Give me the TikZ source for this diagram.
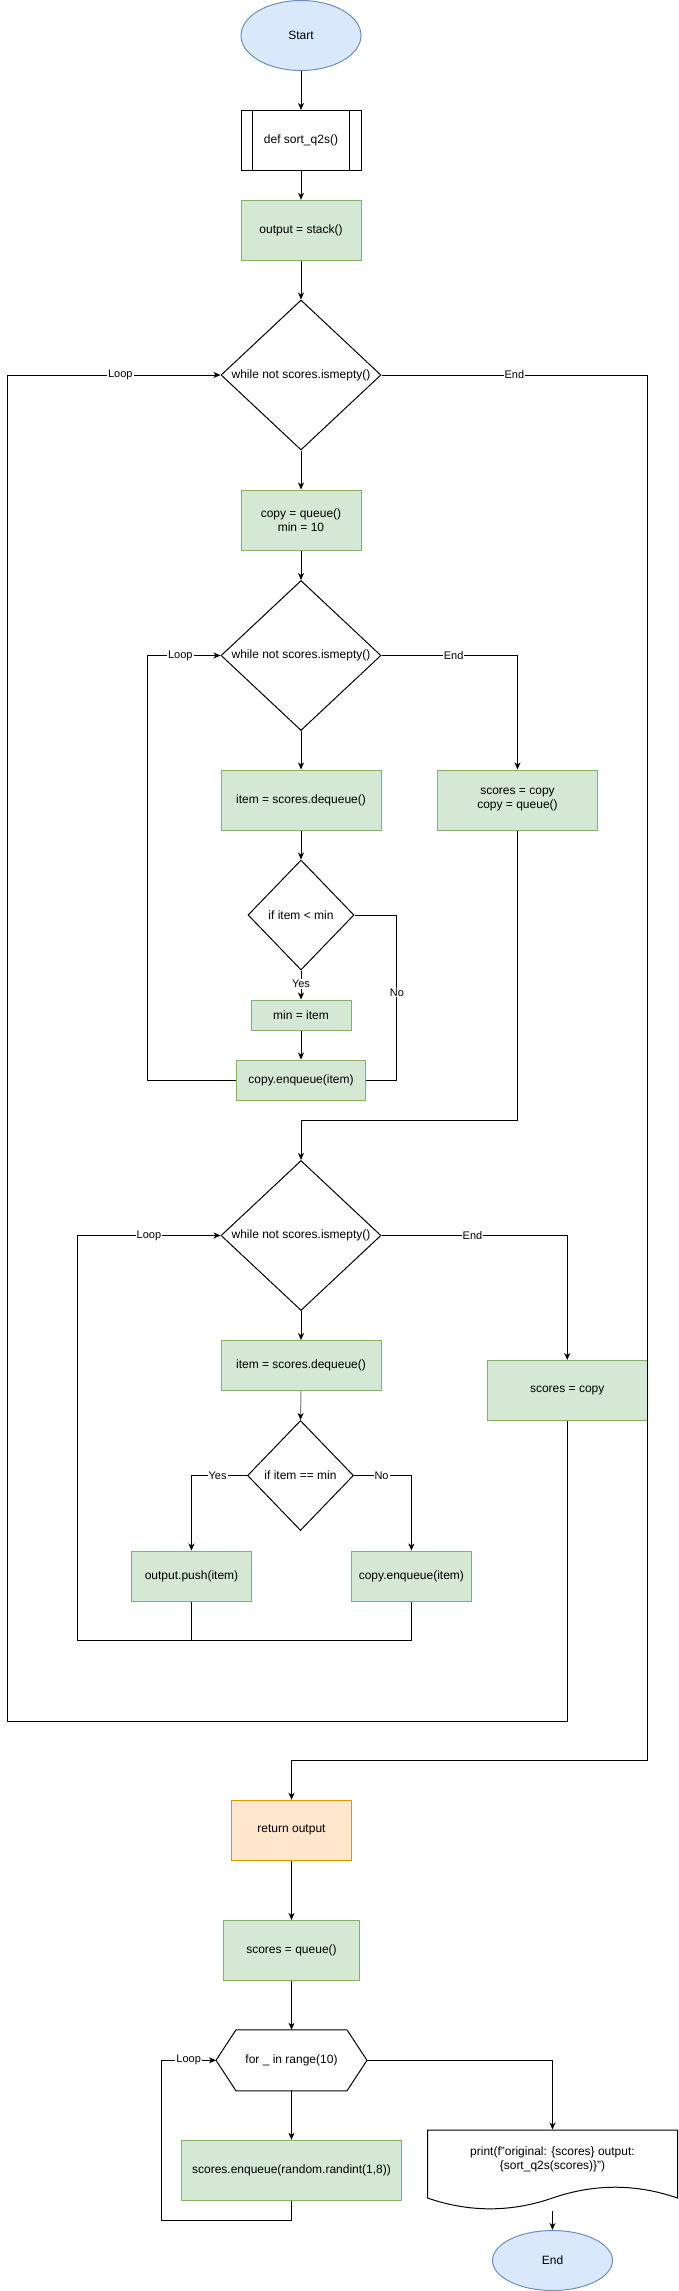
\documentclass[tikz,border=0pt]{standalone}
\usepackage{fontspec}
\setmainfont{Liberation Sans}
\usetikzlibrary{arrows.meta,shapes.geometric}
\definecolor{gfill}{HTML}{D5E8D4}
\definecolor{gline}{HTML}{82B366}
\definecolor{bfill}{HTML}{DAE8FC}
\definecolor{bline}{HTML}{6C8EBF}
\definecolor{ofill}{HTML}{FFE6CC}
\definecolor{oline}{HTML}{D79B00}
\definecolor{edgegray}{HTML}{808080}
\begin{document}
\begin{tikzpicture}[x=1pt,y=-1pt,line width=1pt,
  txt/.style={font=\fontsize{12}{14}\selectfont,align=center,text=black},
  gbox/.style={txt,rectangle,draw=gline,fill=gfill,inner sep=0pt},
  obox/.style={txt,rectangle,draw=oline,fill=ofill,inner sep=0pt},
  wbox/.style={txt,rectangle,draw=black,fill=white,inner sep=0pt},
  term/.style={txt,ellipse,draw=bline,fill=bfill,inner sep=0pt,minimum width=120pt,minimum height=70pt},
  dia/.style={txt,diamond,draw=black,fill=white,inner sep=0pt,aspect=1.07},
  helper/.style={rectangle,inner sep=0pt},
  arr/.style={-{Stealth[length=7pt,width=6pt,inset=2pt]}},
  grayarr/.style={-{Stealth[length=7pt,width=6pt,inset=2pt,black]},draw=edgegray},
  lab/.style={font=\fontsize{11}{13}\selectfont,fill=white,inner sep=1pt,text=black}]
\useasboundingbox (0,0) rectangle (678,2291);

% ---------- nodes ----------
\node[term] (start) at (301,35.5) {Start};
\node[wbox,minimum width=120pt,minimum height=60pt] (def) at (301,140.5) {def sort\_q2s()};
\draw ([xshift=12pt]def.north west) -- ([xshift=12pt]def.south west);
\draw ([xshift=-12pt]def.north east) -- ([xshift=-12pt]def.south east);
\node[gbox,minimum width=120pt,minimum height=60pt] (out) at (301,230.3) {output = stack()};
\node[dia,minimum width=160pt,minimum height=150pt] (d1) at (301,375) {while not scores.ismepty()};
\node[gbox,minimum width=120pt,minimum height=60pt] (copy) at (301,520) {copy = queue()\\min = 10};
\node[dia,minimum width=160pt,minimum height=150pt] (d2) at (301,655.5) {while not scores.ismepty()};
\node[gbox,minimum width=160pt,minimum height=60pt] (item1) at (301,800) {item = scores.dequeue()};
\node[gbox,minimum width=160pt,minimum height=60pt] (sc1) at (517.5,800) {scores = copy\\copy = queue()};
\node[dia,minimum width=106pt,minimum height=110pt] (d3) at (301,915) {if item < min};
\node[gbox,minimum width=100pt,minimum height=30pt] (mini) at (301,1015) {min = item};
\node[gbox,minimum width=129pt,minimum height=40pt] (enq1) at (301,1080) {copy.enqueue(item)};
\node[dia,minimum width=160pt,minimum height=150pt] (d4) at (301,1235.5) {while not scores.ismepty()};
\node[gbox,minimum width=160pt,minimum height=50pt] (item2) at (301,1365.6) {item = scores.dequeue()};
\node[gbox,minimum width=160pt,minimum height=60pt] (sc2) at (567.2,1390.5) {scores = copy};
\node[dia,minimum width=106pt,minimum height=110pt] (d5) at (300.5,1475.5) {if item == min};
\node[gbox,minimum width=120pt,minimum height=50pt] (push) at (191.5,1576) {output.push(item)};
\node[gbox,minimum width=120pt,minimum height=50pt] (enq2) at (411.4,1576) {copy.enqueue(item)};
\node[obox,minimum width=120pt,minimum height=60pt] (ret) at (291.5,1830.3) {return output};
\node[gbox,minimum width=136pt,minimum height=60pt] (sq) at (291.5,1950.5) {scores = queue()};
\node[helper,minimum width=150pt,minimum height=60pt] (hex) at (291.5,2060.3) {};
\draw[fill=white] (hex.west) -- ([xshift=20pt]hex.north west) -- ([xshift=-20pt]hex.north east)
  -- (hex.east) -- ([xshift=-20pt]hex.south east) -- ([xshift=20pt]hex.south west) -- cycle;
\node[txt] (hext) at (hex) {for \_ in range(10)};
\node[gbox,minimum width=220pt,minimum height=60pt] (enq3) at (291.5,2170.3) {scores.enqueue(random.randint(1,8))};
\node[helper,minimum width=250pt,minimum height=80pt] (doc) at (552.5,2170) {};
\draw[fill=white] (427.5,2130) -- (677.5,2130) -- (677.5,2198)
  .. controls (635.83,2183.6) and (594.17,2183.6) .. (552.5,2198)
  .. controls (510.83,2212.4) and (469.17,2212.4) .. (427.5,2198) -- cycle;
\node[txt] (doct) at (552.5,2159) {print(f"original: \{scores\} output:\\\{sort\_q2s(scores)\}")};
\node[term,minimum height=60pt] (end) at (552.5,2260.5) {End};

% ---------- bend points ----------
\coordinate (e2a) at (517.5,655.5);
\coordinate (n3a) at (396.9,915);
\coordinate (n3b) at (396.9,1080);
\coordinate (l2a) at (147.4,1080);
\coordinate (l2b) at (147.4,655.5);
\coordinate (s1a) at (517.5,1120);
\coordinate (s1b) at (301,1120);
\coordinate (e4a) at (567.2,1235.5);
\coordinate (y5a) at (191.5,1475.5);
\coordinate (n5a) at (411.4,1475.5);
\coordinate (m4a) at (191.5,1640.7);
\coordinate (m4b) at (411.4,1640.7);
\coordinate (l4a) at (77.4,1640.7);
\coordinate (l4b) at (77.4,1235.5);
\coordinate (l1a) at (567.2,1721.2);
\coordinate (l1b) at (7.4,1721.2);
\coordinate (l1c) at (7.4,375);
\coordinate (e1a) at (647.2,375);
\coordinate (e1b) at (647.2,1760);
\coordinate (e1c) at (291.5,1760);
\coordinate (lfa) at (291.5,2220.3);
\coordinate (lfb) at (161.3,2220.3);
\coordinate (lfc) at (161.3,2060.3);
\coordinate (pra) at (552.5,2060.3);

% ---------- connectors ----------
\draw[arr] (start.south) -- (def.north);
\draw[arr] (def.south) -- (out.north);
\draw[arr] (out.south) -- (d1.north);
\draw[arr] (d1.south) -- (copy.north);
\draw[arr] (copy.south) -- (d2.north);
\draw[arr] (d2.south) -- (item1.north);
\draw[arr] (d2.east) -- node[lab,pos=0.53] {End} (e2a) -- (sc1.north);
\draw[arr] (item1.south) -- (d3.north);
\draw[arr] (d3.south) -- node[lab,pos=0.47] {Yes} (mini.north);
\draw[arr] (mini.south) -- (enq1.north);
\draw (d3.east) -- (n3a) -- node[lab,pos=0.47] {No} (n3b) -- (enq1.east);
\draw[arr] (enq1.west) -- (l2a) -- (l2b) -- node[lab,pos=0.45] {Loop} (d2.west);
\draw[arr] (sc1.south) -- (s1a) -- (s1b) -- (d4.north);
\draw[arr] (d4.south) -- (item2.north);
\draw[arr] (d4.east) -- node[lab,pos=0.49] {End} (e4a) -- (sc2.north);
\draw[grayarr] (item2.south) -- (d5.north);
\draw[arr] (d5.west) -- node[lab,pos=0.53] {Yes} (y5a) -- (push.north);
\draw[arr] (d5.east) -- node[lab,pos=0.48] {No} (n5a) -- (enq2.north);
\draw (push.south) -- (m4a);
\draw[arr] (enq2.south) -- (m4b) -- (l4a) -- (l4b) -- node[lab,pos=0.5] {Loop} (d4.west);
\draw[arr] (sc2.south) -- (l1a) -- (l1b) -- (l1c) -- node[lab,pos=0.53] {Loop} (d1.west);
\draw[arr] (d1.east) -- node[lab,pos=0.5] {End} (e1a) -- (e1b) -- (e1c) -- (ret.north);
\draw[arr] (ret.south) -- (sq.north);
\draw[arr] (sq.south) -- (hex.north);
\draw[arr] (hex.south) -- (enq3.north);
\draw[arr] (enq3.south) -- (lfa) -- (lfb) -- (lfc) -- node[lab,pos=0.5] {Loop} (hex.west);
\draw[arr] (hex.east) -- (pra) -- (doc.north);
\draw[arr] (doc.south) -- (end.north);
\end{tikzpicture}
\end{document}
